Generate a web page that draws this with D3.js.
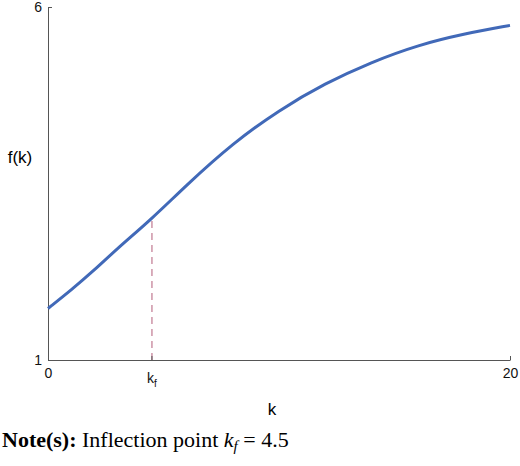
<!DOCTYPE html>
<html><head><meta charset="utf-8">
<script src="https://cdn.jsdelivr.net/npm/d3@7"></script>
<style>body{margin:0;background:#fff}</style></head>
<body><svg id="c" width="520" height="466"></svg>
<script>
const kValues = [0,1,2,3,4.5,6,8,10,12,14,16,18,20];
const fValues = [1.73,1.99,2.27,2.58,3.00,3.48,4.07,4.54,4.92,5.22,5.46,5.62,5.74];
const inflectionK = 4.5, inflectionF = 3.00;
const xTicks = [0, 20];
const yTicks = [1, 6];

const svg = d3.select("#c");
const x = d3.scaleLinear().domain([0,20]).range([48,510]);
const y = d3.scaleLinear().domain([1,6]).range([360,7]);
const data = kValues.map((k,i)=>({k, f:fValues[i]}));
const ax = "#555";

const gx = svg.append("g").attr("transform","translate(0,360)")
  .call(d3.axisBottom(x).tickValues(xTicks).tickFormat(d3.format("d")).tickSize(-4).tickPadding(8).tickSizeOuter(0));
const gy = svg.append("g").attr("transform","translate(48,0)")
  .call(d3.axisLeft(y).tickValues(yTicks).tickFormat(d3.format("d")).tickSize(-4).tickPadding(6).tickSizeOuter(0));
[gx,gy].forEach(g=>{g.selectAll("path,line").attr("stroke",ax);
  g.selectAll("text").attr("font-family","Liberation Sans, Arial").attr("font-size",14).attr("fill","#111");});
gy.select(".tick:last-of-type text").attr("dy","0.3em");

svg.append("line").attr("x1",x(inflectionK)).attr("x2",x(inflectionK))
  .attr("y1",y(1)).attr("y2",y(inflectionF)).attr("stroke","#c07890").attr("stroke-width",1.2).attr("stroke-dasharray","7,5");
svg.append("line").attr("x1",x(inflectionK)).attr("x2",x(inflectionK)).attr("y1",360).attr("y2",356).attr("stroke",ax);
const kt = svg.append("text").attr("x",x(inflectionK)).attr("y",383).attr("text-anchor","middle")
  .attr("font-family","Liberation Sans, Arial").attr("font-size",14).attr("fill","#111");
kt.append("tspan").text("k");
kt.append("tspan").attr("font-size",10).attr("dy",4).text("f");

svg.append("path").datum(data).attr("fill","none").attr("stroke","#4169b8").attr("stroke-width",3)
  .attr("d", d3.line().x(d=>x(d.k)).y(d=>y(d.f)).curve(d3.curveBasis));

svg.append("text").attr("x",20).attr("y",163).attr("text-anchor","middle")
  .attr("font-family","Liberation Sans, Arial").attr("font-size",17).text("f(k)");
svg.append("text").attr("x",272).attr("y",415).attr("text-anchor","middle")
  .attr("font-family","Liberation Sans, Arial").attr("font-size",17).text("k");

const note = svg.append("text").attr("x",2).attr("y",447).attr("font-family","Liberation Serif, Times New Roman").attr("font-size",22);
note.append("tspan").attr("font-weight","bold").text("Note(s):");
note.append("tspan").text(" Inflection point  ");
note.append("tspan").attr("font-style","italic").text("k");
note.append("tspan").attr("font-style","italic").attr("font-size",15).attr("dy",4).text("f");
note.append("tspan").attr("dy",-4).text(" = 4.5");
</script></body></html>
